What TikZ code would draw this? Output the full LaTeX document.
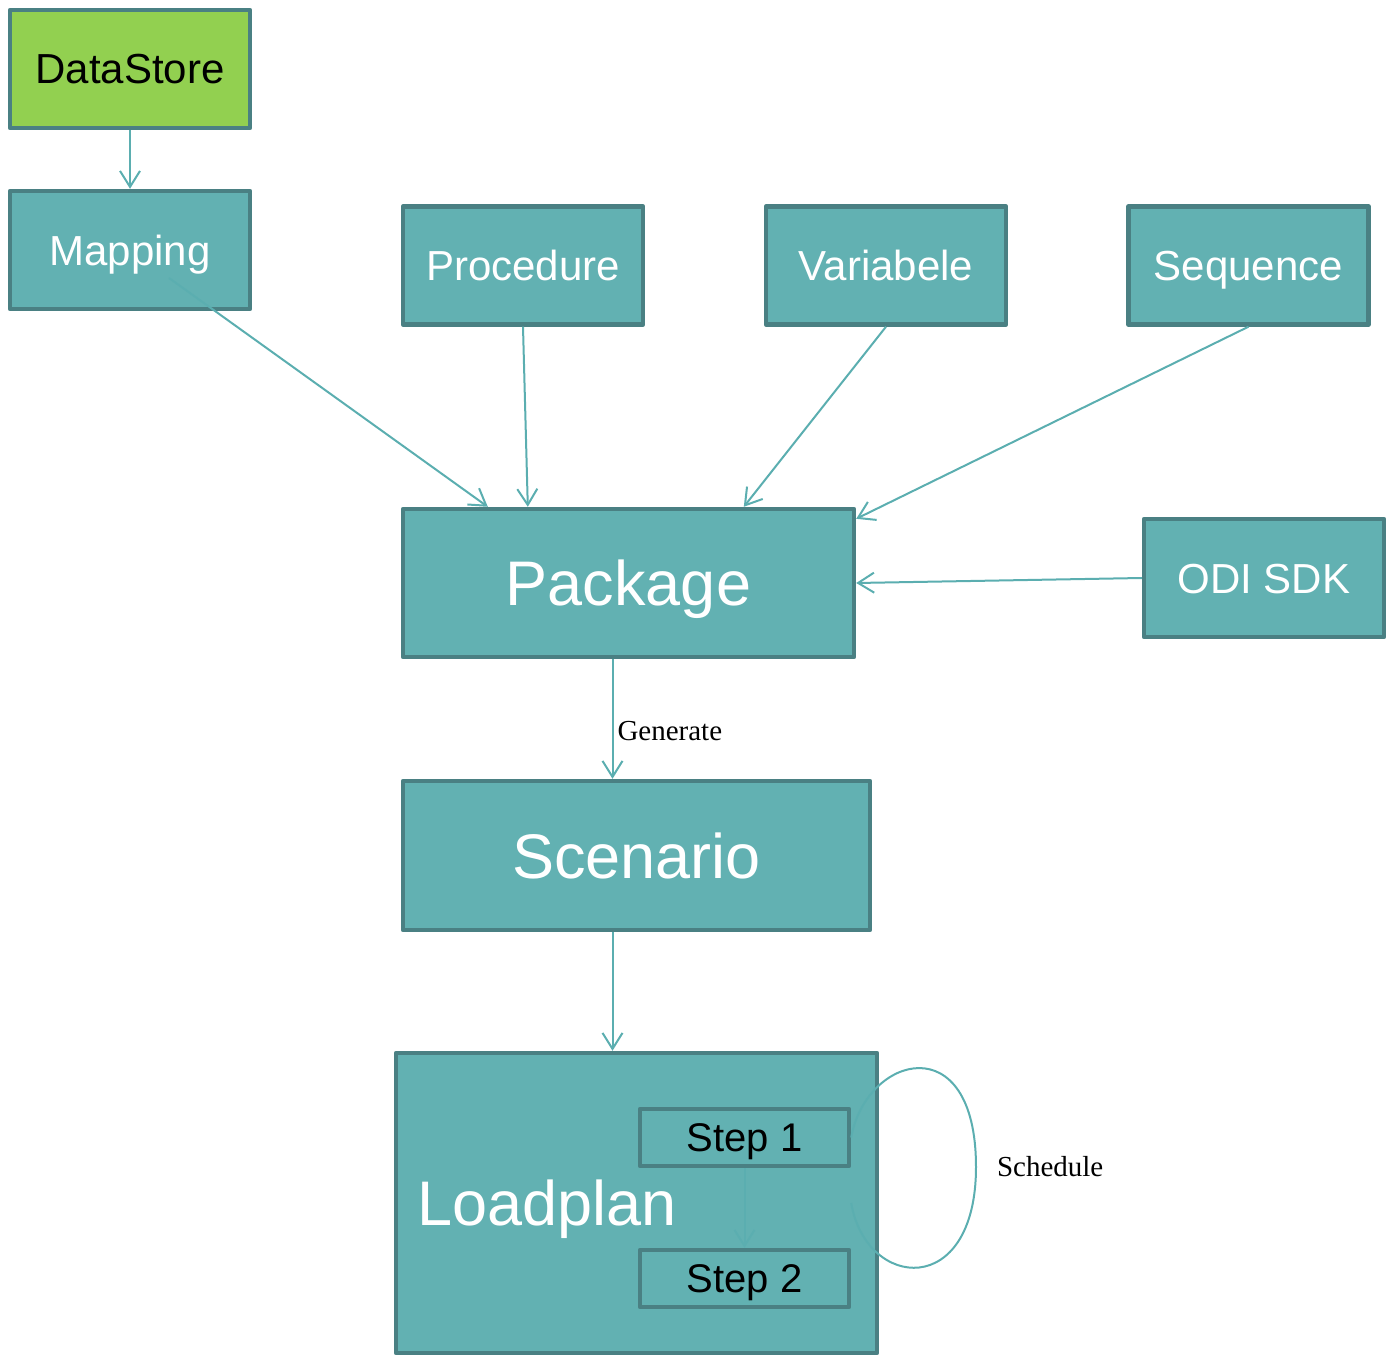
\documentclass[tikz,border=0pt]{standalone}
\usepackage{fontspec}
\setmainfont{Liberation Serif}
\setsansfont{Liberation Sans}
\usepackage{tikz}
\usetikzlibrary{arrows.meta,calc,positioning}
\definecolor{tealfill}{RGB}{98,177,178}
\definecolor{tealdraw}{RGB}{74,128,131}
\definecolor{tealline}{RGB}{91,174,176}
\definecolor{greenstore}{RGB}{146,208,80}

\begin{document}
\begin{tikzpicture}[x=0.5pt,y=-0.5pt]
  \useasboundingbox (0,0) rectangle (1389,1359);

           \tikzstyle{every edge}=[-{Straight Barb[length=8pt,width=10pt]},draw=tealline,line width=1pt]
           \tikzstyle{obj}=[draw=tealdraw,fill=tealfill,line width=2.2pt,line join=round,text=white,font=\sffamily\fontsize{21}{25}\selectfont,text height=15pt,text depth=0pt,minimum width=120pt,minimum height=59pt]
           \tikzstyle{big}=[obj,font=\sffamily\fontsize{31.5}{36}\selectfont,text height=22.5pt]
           \tikzstyle{stepbox}=[obj,text=black,font=\sffamily\fontsize{20}{24}\selectfont,text height=14.3pt,minimum width=104.5pt,minimum height=28.5pt]
           \tikzstyle{lbl}=[font=\fontsize{14.5}{17}\selectfont,inner sep=2pt,text=black]

    \node[obj, fill=greenstore, text=black] (DataStore) at (130,69) {DataStore};
    \node[obj] (Mapping) at (130,250) {Mapping};
    \node[obj] (Procedure) at (523,265.5) {Procedure};
    \node[obj] (Variabele) at (886,265.5) {Variabele};
    \node[obj] (Sequence) at (1248.5,265.5) {Sequence};
    \node[big, minimum width=225.5pt, minimum height=74pt] (Package) at (628.5,583) {Package};
    \node[obj] (ODI) at (1264,578) {ODI SDK};
    \node[big, minimum width=233.5pt, minimum height=74.5pt] (Scenario) at (636.5,855.5) {Scenario};
    \node[big, minimum width=240.5pt, minimum height=150pt, text width=219pt, align=left] (Loadplan) at (636.5,1203) {Loadplan};
    \node[stepbox] (Step1) at (744.5,1137.5) {Step 1};
    \node[stepbox] (Step2) at (744.5,1278.5) {Step 2};

    \path (DataStore.south) edge (Mapping.north);
    \path (Mapping.center) edge[shorten <=24pt] ([xshift=43.5pt]Package.north west);
    \path (Procedure.south) edge ([xshift=63.5pt]Package.north west);
    \path (Variabele.south) edge ([xshift=171.5pt]Package.north west);
    \path (Sequence.south) edge ([yshift=-6pt]Package.north east);
    \path (ODI.west) edge (Package.east);

    \coordinate (gen) at ([xshift=-8pt]Package.south);
    \path (gen) edge node[lbl, right, pos=0.6] {Generate} (gen |- Scenario.north);
    \path (gen |- Scenario.south) edge (gen |- Loadplan.north);
    \path (Step1.south) edge (Step2.north);

    \coordinate (sched) at (Step1.east |- Loadplan.center);
    \draw[tealline, line width=1pt] (Step1.east) .. controls (866,1055) and (976,1025) .. (976,1167)
        node[lbl, right=8pt] {Schedule} .. controls (976,1300) and (866,1290) .. (sched);
 \end{tikzpicture}
\end{document}
